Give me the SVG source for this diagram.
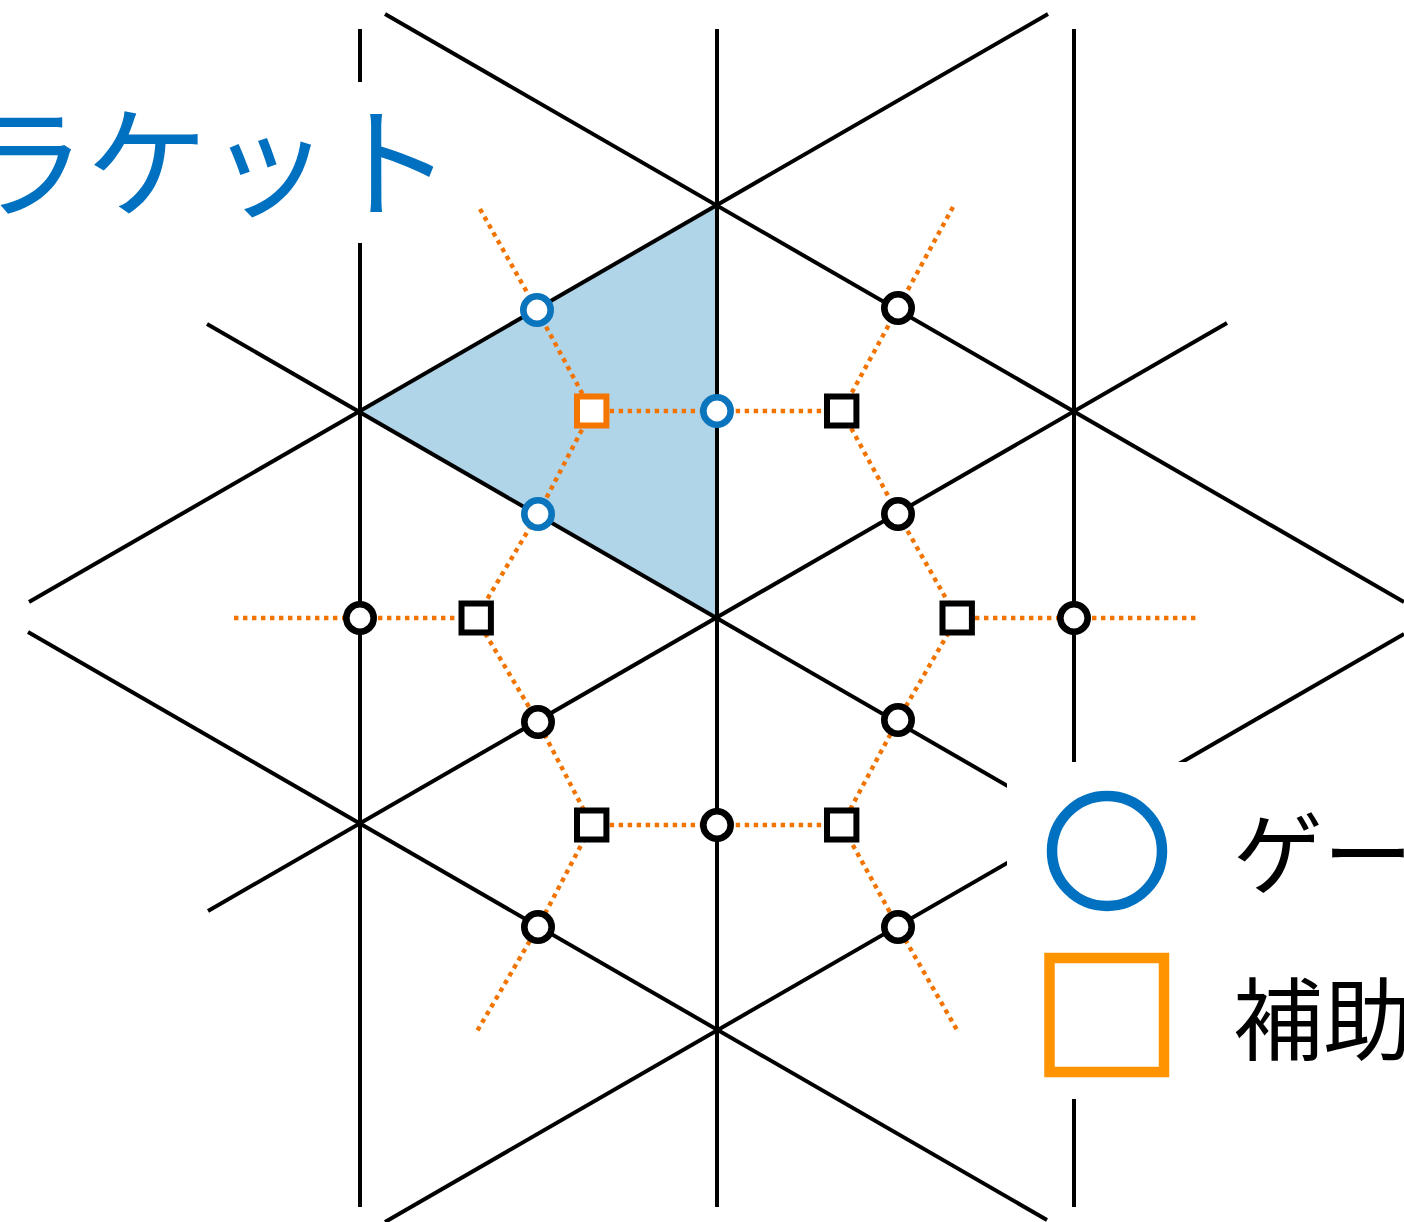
<svg xmlns="http://www.w3.org/2000/svg" width="1404" height="1222" viewBox="0 0 1404 1222">
<style>
.ln{stroke:#000;stroke-width:4;fill:none}
.dot{stroke:#F27300;stroke-width:4.4;stroke-dasharray:4.4 4.6;fill:none}
.cb{fill:#fff;stroke:#000;stroke-width:6.6}
.cg{fill:#fff;stroke:#0A74BC;stroke-width:6.6}
.sb{fill:#fff;stroke:#000;stroke-width:6}
.so{fill:#fff;stroke:#F47500;stroke-width:6}
.lbl{font-family:"Noto Sans CJK JP","Noto Sans",sans-serif}
</style>
<rect width="1404" height="1222" fill="#fff"/>
<polygon id="plaquette" points="717,205 360,411 717,618" fill="#B0D4E8"/>
<g id="lattice">
<line class="ln" x1="360" y1="29" x2="360" y2="1207"/>
<line class="ln" x1="717" y1="29" x2="717" y2="1207"/>
<line class="ln" x1="1074" y1="29" x2="1074" y2="1207"/>
<line class="ln" x1="385" y1="14" x2="1404" y2="602"/>
<line class="ln" x1="207" y1="324" x2="1226" y2="912"/>
<line class="ln" x1="28" y1="632" x2="1047" y2="1220"/>
<line class="ln" x1="1048" y1="14" x2="29" y2="602"/>
<line class="ln" x1="1227" y1="323" x2="208" y2="911"/>
<line class="ln" x1="1404" y1="634" x2="385" y2="1222"/>
</g>
<g id="connectors">
<polyline class="dot" points="480,209 537,310 591.7,411 538,514 476,618 538,722 591.7,825 538,927 476,1033"/>
<polyline class="dot" points="953,207 898,308 841.8,411 898,514 957,618 898,720 841.8,825 898,927 957,1030"/>
<line class="dot" x1="591.7" y1="411" x2="841.8" y2="411"/>
<line class="dot" x1="591.7" y1="825" x2="841.8" y2="825"/>
<line class="dot" x1="234" y1="618" x2="476" y2="618"/>
<line class="dot" x1="957" y1="618" x2="1197" y2="618"/>
</g>
<g id="node-g1"><circle class="cg" cx="537" cy="310" r="13.7"/></g>
<g id="node-g2"><circle class="cg" cx="717" cy="411" r="13.7"/></g>
<g id="node-g3"><circle class="cg" cx="538" cy="514" r="13.7"/></g>
<g id="node-a1"><rect class="so" x="577" y="396.5" width="29.4" height="29"/></g>
<g id="node-c1"><circle class="cb" cx="898" cy="308" r="13.7"/></g>
<g id="node-c2"><circle class="cb" cx="898" cy="514" r="13.7"/></g>
<g id="node-c3"><circle class="cb" cx="360" cy="618" r="13.7"/></g>
<g id="node-c4"><circle class="cb" cx="1074" cy="618" r="13.7"/></g>
<g id="node-c5"><circle class="cb" cx="538" cy="722" r="13.7"/></g>
<g id="node-c6"><circle class="cb" cx="898" cy="720" r="13.7"/></g>
<g id="node-c7"><circle class="cb" cx="717" cy="825" r="13.7"/></g>
<g id="node-c8"><circle class="cb" cx="538" cy="927" r="13.7"/></g>
<g id="node-c9"><circle class="cb" cx="898" cy="927" r="13.7"/></g>
<g id="node-s1"><rect class="sb" x="827" y="396.5" width="29.4" height="29"/></g>
<g id="node-s2"><rect class="sb" x="461.5" y="603.5" width="29.4" height="29"/></g>
<g id="node-s3"><rect class="sb" x="942.5" y="603.5" width="29.4" height="29"/></g>
<g id="node-s4"><rect class="sb" x="577" y="810.5" width="29.4" height="29"/></g>
<g id="node-s5"><rect class="sb" x="827" y="810.5" width="29.4" height="29"/></g>
<g id="title">
<rect x="-10" y="82" width="450" height="161" fill="#fff"/>
<text class="lbl" x="-36" y="208" font-size="122" fill="#0070C0">ラケット</text>
</g>
<g id="legend">
<rect x="1007" y="762" width="420" height="337" fill="#fff"/>
<circle cx="1107" cy="851" r="55" fill="none" stroke="#0070C0" stroke-width="10.5"/>
<rect x="1049.5" y="958" width="114.5" height="114" fill="none" stroke="#FF9400" stroke-width="10.5"/>
<text class="lbl" x="1233" y="887" font-size="90" fill="#000">ゲー</text>
<text class="lbl" x="1233" y="1053" font-size="90" fill="#000">補助</text>
</g>
</svg>
